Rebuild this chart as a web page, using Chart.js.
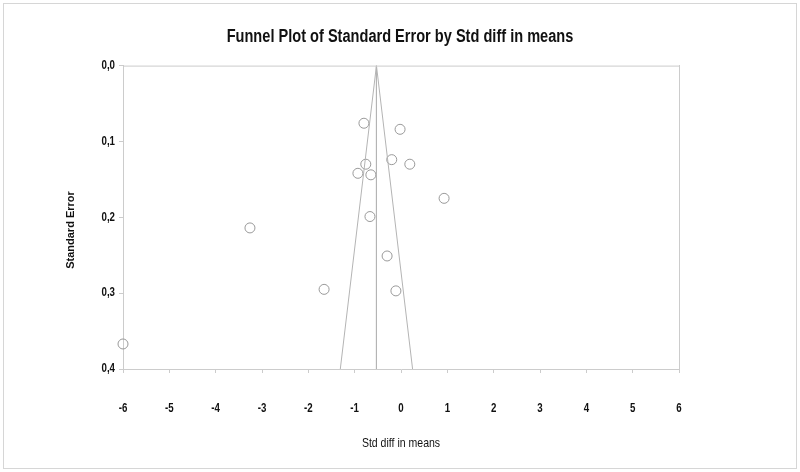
<!DOCTYPE html>
<html>
<head>
<meta charset="utf-8">
<script src="https://cdn.jsdelivr.net/npm/chart.js@4/dist/chart.umd.min.js"></script>
<style>
  body { margin: 0; background: #fff; }
  #wrap { width: 800px; height: 472px; position: relative; }
</style>
</head>
<body>
<div id="wrap"><canvas id="myChart" width="800" height="472"></canvas></div>
<script>
// study effects (std diff in means) and their standard errors
const studyDiff = [-0.80, -0.02, -0.76, -0.20, 0.19, -0.93, -0.65, 0.93, -0.67, -3.26, -0.30, -1.66, -0.11, -6.0];
const studySE = [0.076, 0.084, 0.130, 0.124, 0.130, 0.142, 0.144, 0.175, 0.199, 0.214, 0.251, 0.295, 0.297, 0.367];

// overall effect and funnel limits
const meanDiff = -0.53;
const funnelX = [-1.31, meanDiff, 0.25];
const funnelSE = [0.4, 0.0, 0.4];
const meanLineSE = [0.0, 0.4];
const diamondSE = 0.413;

const xTicks = [-6, -5, -4, -3, -2, -1, 0, 1, 2, 3, 4, 5, 6];
const yTicks = [0.0, 0.1, 0.2, 0.3, 0.4];

const lineGray = '#b4b4b4';
const axisGray = '#cccccc';

const ctx = document.getElementById('myChart').getContext('2d');

// no Arial Narrow here, so squeeze the text horizontally around its anchor
const rawFillText = CanvasRenderingContext2D.prototype.fillText;
const squeeze = 0.81;
ctx.fillText = function(text, x, y, maxWidth) {
    this.save();
    this.translate(x, y);
    this.scale(squeeze, 1);
    if (maxWidth === undefined) {
        rawFillText.call(this, text, 0, 0);
    } else {
        rawFillText.call(this, text, 0, 0, maxWidth / squeeze);
    }
    this.restore();
};

const frame = {
    id: 'frame',
    beforeDraw(chart) {
        const c = chart.ctx;
        c.save();
        c.fillStyle = '#fff';
        c.fillRect(0, 0, chart.width, chart.height);
        c.strokeStyle = '#d6d6d6';
        c.lineWidth = 1;
        c.strokeRect(3.5, 3.5, 793, 465);
        c.restore();
    },
    afterDraw(chart) {
        const a = chart.chartArea;
        const c = chart.ctx;
        c.save();
        c.strokeStyle = axisGray;
        c.lineWidth = 1;
        c.beginPath();
        c.moveTo(a.left, a.top + 0.5);
        c.lineTo(a.right, a.top + 0.5);
        c.stroke();
        // y axis title, normal width
        c.translate(71, 230);
        c.rotate(-Math.PI / 2);
        c.fillStyle = '#111';
        c.font = 'bold 11px "Liberation Sans", Arial, sans-serif';
        c.textAlign = 'center';
        c.textBaseline = 'middle';
        rawFillText.call(c, 'Standard Error', 0, 0);
        c.restore();
    }
};

const data = {
    datasets: [{
        label: 'funnel',
        data: funnelX.map((x, i) => ({x: x, y: funnelSE[i]})),
        showLine: true,
        borderColor: lineGray,
        borderWidth: 1,
        pointRadius: 0,
        fill: false,
    }, {
        label: 'mean',
        data: meanLineSE.map(y => ({x: meanDiff, y: y})),
        showLine: true,
        borderColor: lineGray,
        borderWidth: 1,
        pointRadius: 0,
    }, {
        label: 'studies',
        data: studyDiff.map((x, i) => ({x: x, y: studySE[i]})),
        pointStyle: 'circle',
        pointRadius: 5,
        borderWidth: 1,
        borderColor: '#9a9a9a',
        backgroundColor: 'rgba(0,0,0,0)',
        clip: false,
    }, {
        label: 'summary',
        data: [{x: meanDiff, y: diamondSE}],
        pointStyle: 'rectRot',
        pointRadius: 5,
        borderWidth: 1,
        borderColor: '#9a9a9a',
        backgroundColor: 'rgba(0,0,0,0)',
        clip: false,
    }]
};

const sans = '"Liberation Sans", Arial, sans-serif';

const config = {
    type: 'scatter',
    data: data,
    options: {
        responsive: false,
        animation: false,
        devicePixelRatio: 1,
        layout: {
            autoPadding: false,
            padding: 0
        },
        plugins: {
            legend: {display: false},
            tooltip: {enabled: false},
            title: {
                display: true,
                text: 'Funnel Plot of Standard Error by Std diff in means',
                color: '#111',
                font: {family: sans, size: 18, weight: 'bold'},
                padding: {top: 26, bottom: 18}
            }
        },
        scales: {
            x: {
                type: 'linear',
                min: -6,
                max: 6,
                afterBuildTicks: (s) => { s.ticks = xTicks.map(v => ({value: v})); },
                afterFit: (s) => { s.height = 103; },
                ticks: {
                    color: '#111',
                    font: {family: sans, size: 12, weight: 'bold'},
                    padding: 28,
                    callback: (v) => String(v)
                },
                grid: {display: true, drawOnChartArea: false, tickLength: 4, color: axisGray},
                border: {display: true, color: axisGray},
                title: {
                    display: true,
                    text: 'Std diff in means',
                    color: '#111',
                    font: {family: sans, size: 13},
                    padding: {top: 0, bottom: 21}
                }
            },
            y: {
                type: 'linear',
                reverse: true,
                min: 0,
                max: 0.4,
                afterBuildTicks: (s) => { s.ticks = yTicks.map(v => ({value: v})); },
                afterFit: (s) => { s.width = 123; },
                ticks: {
                    color: '#111',
                    font: {family: sans, size: 12, weight: 'bold'},
                    padding: 4,
                    callback: (v) => Number(v).toFixed(1).replace('.', ',')
                },
                grid: {display: true, drawOnChartArea: false, tickLength: 4, color: axisGray},
                border: {display: true, color: axisGray}
            },
            // empty right axis: draws the right frame and keeps the title centred
            yRight: {
                type: 'linear',
                position: 'right',
                reverse: true,
                min: 0,
                max: 0.4,
                afterFit: (s) => { s.width = 121; },
                ticks: {display: false},
                grid: {display: false, drawTicks: false},
                border: {display: true, color: axisGray}
            }
        }
    },
    plugins: [frame]
};

const myChart = new Chart(ctx, config);
</script>
</body>
</html>
